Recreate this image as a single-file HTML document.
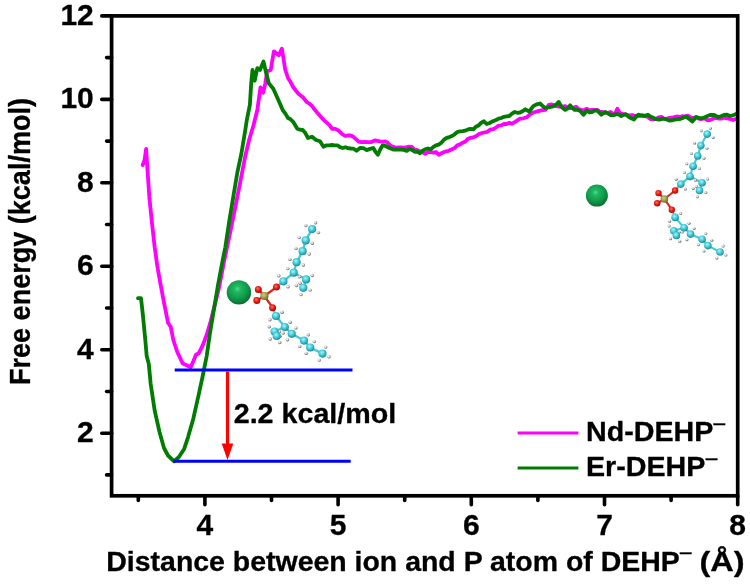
<!DOCTYPE html>
<html lang="en">
<head>
<meta charset="utf-8">
<title>Free energy profile</title>
<style>
html,body{margin:0;padding:0;background:#fff;}
svg{display:block;}
text{font-family:"Liberation Sans",sans-serif;font-weight:bold;font-size:27.3px;fill:#000;stroke:#000;stroke-width:0.3px;stroke-linejoin:round;}
</style>
</head>
<body>
<svg width="750" height="585" viewBox="0 0 750 585">
<defs>
<radialGradient id="gS" cx="0.44" cy="0.36" r="0.72"><stop offset="0" stop-color="#44e08e"/><stop offset="0.18" stop-color="#22b862"/><stop offset="0.55" stop-color="#109a4a"/><stop offset="1" stop-color="#075e2c"/></radialGradient>
<radialGradient id="gC" cx="0.42" cy="0.36" r="0.72"><stop offset="0" stop-color="#aef5f8"/><stop offset="0.45" stop-color="#42ccda"/><stop offset="1" stop-color="#167684"/></radialGradient>
<radialGradient id="gO" cx="0.42" cy="0.38" r="0.72"><stop offset="0" stop-color="#ff7060"/><stop offset="0.5" stop-color="#e6150d"/><stop offset="1" stop-color="#8c0804"/></radialGradient>
<radialGradient id="gP" cx="0.42" cy="0.38" r="0.72"><stop offset="0" stop-color="#d2d082"/><stop offset="0.5" stop-color="#9a9848"/><stop offset="1" stop-color="#5e5c28"/></radialGradient>
<radialGradient id="gH" cx="0.4" cy="0.36" r="0.75"><stop offset="0" stop-color="#ffffff"/><stop offset="0.4" stop-color="#cdcdcd"/><stop offset="1" stop-color="#2e2e2e"/></radialGradient>
</defs>
<rect width="750" height="585" fill="#fff"/>
<g id="molecules">
<line x1="264.4" y1="296.0" x2="258.3" y2="289.4" stroke="#d8261c" stroke-width="2.3"/>
<line x1="264.4" y1="296.0" x2="256.8" y2="300.5" stroke="#d8261c" stroke-width="2.3"/>
<line x1="264.4" y1="296.0" x2="276.5" y2="287.1" stroke="#d8261c" stroke-width="2.3"/>
<line x1="264.4" y1="296.0" x2="272.6" y2="307.7" stroke="#d8261c" stroke-width="2.3"/>
<line x1="276.5" y1="287.1" x2="283.4" y2="281.3" stroke="#49c9d6" stroke-width="2.3"/>
<line x1="283.4" y1="281.3" x2="293.7" y2="272.7" stroke="#49c9d6" stroke-width="2.3"/>
<line x1="293.7" y1="272.7" x2="296.6" y2="262.2" stroke="#49c9d6" stroke-width="2.3"/>
<line x1="296.6" y1="262.2" x2="302.6" y2="251.2" stroke="#49c9d6" stroke-width="2.3"/>
<line x1="302.6" y1="251.2" x2="305.7" y2="240.4" stroke="#49c9d6" stroke-width="2.3"/>
<line x1="305.7" y1="240.4" x2="312.1" y2="229.1" stroke="#49c9d6" stroke-width="2.3"/>
<line x1="293.7" y1="272.7" x2="306.1" y2="279.4" stroke="#49c9d6" stroke-width="2.3"/>
<line x1="306.1" y1="279.4" x2="303.3" y2="287.8" stroke="#49c9d6" stroke-width="2.3"/>
<line x1="272.6" y1="307.7" x2="276.0" y2="316.0" stroke="#49c9d6" stroke-width="2.3"/>
<line x1="276.0" y1="316.0" x2="284.8" y2="327.0" stroke="#49c9d6" stroke-width="2.3"/>
<line x1="284.8" y1="327.0" x2="291.7" y2="333.8" stroke="#49c9d6" stroke-width="2.3"/>
<line x1="291.7" y1="333.8" x2="304.0" y2="340.6" stroke="#49c9d6" stroke-width="2.3"/>
<line x1="304.0" y1="340.6" x2="310.2" y2="347.5" stroke="#49c9d6" stroke-width="2.3"/>
<line x1="310.2" y1="347.5" x2="322.5" y2="353.6" stroke="#49c9d6" stroke-width="2.3"/>
<line x1="284.8" y1="327.0" x2="274.6" y2="331.5" stroke="#49c9d6" stroke-width="2.3"/>
<line x1="274.6" y1="331.5" x2="276.7" y2="336.0" stroke="#49c9d6" stroke-width="2.3"/>
<circle cx="288.0" cy="286.8" r="1.7" fill="url(#gH)"/>
<circle cx="278.8" cy="275.8" r="1.7" fill="url(#gH)"/>
<circle cx="299.6" cy="276.8" r="1.7" fill="url(#gH)"/>
<circle cx="287.8" cy="268.6" r="1.7" fill="url(#gH)"/>
<circle cx="303.3" cy="265.0" r="1.7" fill="url(#gH)"/>
<circle cx="289.9" cy="259.4" r="1.7" fill="url(#gH)"/>
<circle cx="309.2" cy="254.0" r="1.7" fill="url(#gH)"/>
<circle cx="296.0" cy="248.4" r="1.7" fill="url(#gH)"/>
<circle cx="312.3" cy="243.2" r="1.7" fill="url(#gH)"/>
<circle cx="299.1" cy="237.6" r="1.7" fill="url(#gH)"/>
<circle cx="318.4" cy="232.6" r="1.7" fill="url(#gH)"/>
<circle cx="305.8" cy="225.6" r="1.7" fill="url(#gH)"/>
<circle cx="315.6" cy="222.8" r="1.7" fill="url(#gH)"/>
<circle cx="300.0" cy="283.3" r="1.7" fill="url(#gH)"/>
<circle cx="312.2" cy="275.5" r="1.7" fill="url(#gH)"/>
<circle cx="296.5" cy="285.5" r="1.7" fill="url(#gH)"/>
<circle cx="310.1" cy="290.1" r="1.7" fill="url(#gH)"/>
<circle cx="301.0" cy="294.6" r="1.7" fill="url(#gH)"/>
<circle cx="269.9" cy="319.8" r="1.7" fill="url(#gH)"/>
<circle cx="282.1" cy="312.2" r="1.7" fill="url(#gH)"/>
<circle cx="279.4" cy="331.8" r="1.7" fill="url(#gH)"/>
<circle cx="290.2" cy="322.2" r="1.7" fill="url(#gH)"/>
<circle cx="287.5" cy="339.7" r="1.7" fill="url(#gH)"/>
<circle cx="295.9" cy="327.9" r="1.7" fill="url(#gH)"/>
<circle cx="299.7" cy="346.4" r="1.7" fill="url(#gH)"/>
<circle cx="308.3" cy="334.8" r="1.7" fill="url(#gH)"/>
<circle cx="306.1" cy="353.4" r="1.7" fill="url(#gH)"/>
<circle cx="314.3" cy="341.6" r="1.7" fill="url(#gH)"/>
<circle cx="319.3" cy="360.1" r="1.7" fill="url(#gH)"/>
<circle cx="325.7" cy="347.1" r="1.7" fill="url(#gH)"/>
<circle cx="329.0" cy="356.8" r="1.7" fill="url(#gH)"/>
<circle cx="269.2" cy="326.7" r="1.7" fill="url(#gH)"/>
<circle cx="280.0" cy="336.3" r="1.7" fill="url(#gH)"/>
<circle cx="270.2" cy="339.0" r="1.7" fill="url(#gH)"/>
<circle cx="283.2" cy="333.0" r="1.7" fill="url(#gH)"/>
<circle cx="279.7" cy="342.5" r="1.7" fill="url(#gH)"/>
<circle cx="283.4" cy="281.3" r="4.1" fill="url(#gC)"/>
<circle cx="293.7" cy="272.7" r="4.1" fill="url(#gC)"/>
<circle cx="296.6" cy="262.2" r="4.1" fill="url(#gC)"/>
<circle cx="302.6" cy="251.2" r="4.1" fill="url(#gC)"/>
<circle cx="305.7" cy="240.4" r="4.1" fill="url(#gC)"/>
<circle cx="312.1" cy="229.1" r="4.1" fill="url(#gC)"/>
<circle cx="306.1" cy="279.4" r="4.1" fill="url(#gC)"/>
<circle cx="303.3" cy="287.8" r="4.1" fill="url(#gC)"/>
<circle cx="276.0" cy="316.0" r="4.1" fill="url(#gC)"/>
<circle cx="284.8" cy="327.0" r="4.1" fill="url(#gC)"/>
<circle cx="291.7" cy="333.8" r="4.1" fill="url(#gC)"/>
<circle cx="304.0" cy="340.6" r="4.1" fill="url(#gC)"/>
<circle cx="310.2" cy="347.5" r="4.1" fill="url(#gC)"/>
<circle cx="322.5" cy="353.6" r="4.1" fill="url(#gC)"/>
<circle cx="274.6" cy="331.5" r="4.1" fill="url(#gC)"/>
<circle cx="276.7" cy="336.0" r="4.1" fill="url(#gC)"/>
<circle cx="258.3" cy="289.4" r="3.5" fill="url(#gO)"/>
<circle cx="256.8" cy="300.5" r="3.5" fill="url(#gO)"/>
<circle cx="276.5" cy="287.1" r="3.5" fill="url(#gO)"/>
<circle cx="272.6" cy="307.7" r="3.5" fill="url(#gO)"/>
<circle cx="264.4" cy="296.0" r="4.1" fill="url(#gP)"/>
<circle cx="238.9" cy="292.4" r="12.2" fill="url(#gS)"/>
<line x1="664.4" y1="199.0" x2="658.5" y2="193.1" stroke="#d8261c" stroke-width="2.1"/>
<line x1="664.4" y1="199.0" x2="657.2" y2="203.3" stroke="#d8261c" stroke-width="2.1"/>
<line x1="664.4" y1="199.0" x2="675.1" y2="190.5" stroke="#d8261c" stroke-width="2.1"/>
<line x1="664.4" y1="199.0" x2="671.8" y2="209.7" stroke="#d8261c" stroke-width="2.1"/>
<line x1="675.1" y1="190.5" x2="680.8" y2="184.1" stroke="#49c9d6" stroke-width="2.1"/>
<line x1="680.8" y1="184.1" x2="690.0" y2="176.4" stroke="#49c9d6" stroke-width="2.1"/>
<line x1="690.0" y1="176.4" x2="693.1" y2="166.2" stroke="#49c9d6" stroke-width="2.1"/>
<line x1="693.1" y1="166.2" x2="697.7" y2="155.9" stroke="#49c9d6" stroke-width="2.1"/>
<line x1="697.7" y1="155.9" x2="700.8" y2="145.6" stroke="#49c9d6" stroke-width="2.1"/>
<line x1="700.8" y1="145.6" x2="707.2" y2="134.1" stroke="#49c9d6" stroke-width="2.1"/>
<line x1="690.0" y1="176.4" x2="702.1" y2="182.8" stroke="#49c9d6" stroke-width="2.1"/>
<line x1="702.1" y1="182.8" x2="699.5" y2="190.5" stroke="#49c9d6" stroke-width="2.1"/>
<line x1="671.8" y1="209.7" x2="675.1" y2="217.4" stroke="#49c9d6" stroke-width="2.1"/>
<line x1="675.1" y1="217.4" x2="684.1" y2="227.7" stroke="#49c9d6" stroke-width="2.1"/>
<line x1="684.1" y1="227.7" x2="690.5" y2="234.1" stroke="#49c9d6" stroke-width="2.1"/>
<line x1="690.5" y1="234.1" x2="702.1" y2="239.2" stroke="#49c9d6" stroke-width="2.1"/>
<line x1="702.1" y1="239.2" x2="707.9" y2="245.6" stroke="#49c9d6" stroke-width="2.1"/>
<line x1="707.9" y1="245.6" x2="720.0" y2="252.0" stroke="#49c9d6" stroke-width="2.1"/>
<line x1="684.1" y1="227.7" x2="673.8" y2="230.8" stroke="#49c9d6" stroke-width="2.1"/>
<line x1="673.8" y1="230.8" x2="676.4" y2="235.4" stroke="#49c9d6" stroke-width="2.1"/>
<circle cx="685.4" cy="189.0" r="1.5" fill="url(#gH)"/>
<circle cx="676.2" cy="179.2" r="1.5" fill="url(#gH)"/>
<circle cx="695.5" cy="180.2" r="1.5" fill="url(#gH)"/>
<circle cx="684.5" cy="172.6" r="1.5" fill="url(#gH)"/>
<circle cx="699.4" cy="168.6" r="1.5" fill="url(#gH)"/>
<circle cx="686.8" cy="163.8" r="1.5" fill="url(#gH)"/>
<circle cx="704.0" cy="158.2" r="1.5" fill="url(#gH)"/>
<circle cx="691.4" cy="153.6" r="1.5" fill="url(#gH)"/>
<circle cx="706.9" cy="148.3" r="1.5" fill="url(#gH)"/>
<circle cx="694.7" cy="142.9" r="1.5" fill="url(#gH)"/>
<circle cx="713.1" cy="137.4" r="1.5" fill="url(#gH)"/>
<circle cx="701.3" cy="130.8" r="1.5" fill="url(#gH)"/>
<circle cx="710.5" cy="128.2" r="1.5" fill="url(#gH)"/>
<circle cx="696.5" cy="186.5" r="1.5" fill="url(#gH)"/>
<circle cx="707.7" cy="179.1" r="1.5" fill="url(#gH)"/>
<circle cx="693.2" cy="188.4" r="1.5" fill="url(#gH)"/>
<circle cx="705.8" cy="192.6" r="1.5" fill="url(#gH)"/>
<circle cx="697.4" cy="196.8" r="1.5" fill="url(#gH)"/>
<circle cx="669.6" cy="221.2" r="1.5" fill="url(#gH)"/>
<circle cx="680.6" cy="213.6" r="1.5" fill="url(#gH)"/>
<circle cx="679.2" cy="232.2" r="1.5" fill="url(#gH)"/>
<circle cx="689.0" cy="223.2" r="1.5" fill="url(#gH)"/>
<circle cx="686.9" cy="239.7" r="1.5" fill="url(#gH)"/>
<circle cx="694.1" cy="228.5" r="1.5" fill="url(#gH)"/>
<circle cx="698.4" cy="244.8" r="1.5" fill="url(#gH)"/>
<circle cx="705.8" cy="233.6" r="1.5" fill="url(#gH)"/>
<circle cx="704.0" cy="251.0" r="1.5" fill="url(#gH)"/>
<circle cx="711.8" cy="240.2" r="1.5" fill="url(#gH)"/>
<circle cx="716.9" cy="257.9" r="1.5" fill="url(#gH)"/>
<circle cx="723.1" cy="246.1" r="1.5" fill="url(#gH)"/>
<circle cx="725.9" cy="255.1" r="1.5" fill="url(#gH)"/>
<circle cx="669.1" cy="226.1" r="1.5" fill="url(#gH)"/>
<circle cx="678.5" cy="235.5" r="1.5" fill="url(#gH)"/>
<circle cx="670.6" cy="238.7" r="1.5" fill="url(#gH)"/>
<circle cx="682.2" cy="232.1" r="1.5" fill="url(#gH)"/>
<circle cx="679.7" cy="241.2" r="1.5" fill="url(#gH)"/>
<circle cx="680.8" cy="184.1" r="3.8" fill="url(#gC)"/>
<circle cx="690.0" cy="176.4" r="3.8" fill="url(#gC)"/>
<circle cx="693.1" cy="166.2" r="3.8" fill="url(#gC)"/>
<circle cx="697.7" cy="155.9" r="3.8" fill="url(#gC)"/>
<circle cx="700.8" cy="145.6" r="3.8" fill="url(#gC)"/>
<circle cx="707.2" cy="134.1" r="3.8" fill="url(#gC)"/>
<circle cx="702.1" cy="182.8" r="3.8" fill="url(#gC)"/>
<circle cx="699.5" cy="190.5" r="3.8" fill="url(#gC)"/>
<circle cx="675.1" cy="217.4" r="3.8" fill="url(#gC)"/>
<circle cx="684.1" cy="227.7" r="3.8" fill="url(#gC)"/>
<circle cx="690.5" cy="234.1" r="3.8" fill="url(#gC)"/>
<circle cx="702.1" cy="239.2" r="3.8" fill="url(#gC)"/>
<circle cx="707.9" cy="245.6" r="3.8" fill="url(#gC)"/>
<circle cx="720.0" cy="252.0" r="3.8" fill="url(#gC)"/>
<circle cx="673.8" cy="230.8" r="3.8" fill="url(#gC)"/>
<circle cx="676.4" cy="235.4" r="3.8" fill="url(#gC)"/>
<circle cx="658.5" cy="193.1" r="3.2" fill="url(#gO)"/>
<circle cx="657.2" cy="203.3" r="3.2" fill="url(#gO)"/>
<circle cx="675.1" cy="190.5" r="3.2" fill="url(#gO)"/>
<circle cx="671.8" cy="209.7" r="3.2" fill="url(#gO)"/>
<circle cx="664.4" cy="199.0" r="3.8" fill="url(#gP)"/>
<circle cx="596.9" cy="195.6" r="11" fill="url(#gS)"/>
</g>
<g id="curves" fill="none" stroke-linejoin="round" stroke-linecap="round">
<polyline points="142.7,165.0 144.6,160.0 146.1,149.0 147.5,170.0 149.3,196.7 152.0,223.3 154.7,247.3 157.3,266.0 160.0,281.3 164.0,302.7 168.0,322.7 170.7,326.7 173.3,340.0 177.3,352.0 182.7,363.5 186.7,365.3 190.7,367.2 193.3,361.3 196.0,354.7 198.7,353.3 202.7,345.3 206.7,334.7 210.7,321.3 214.7,305.3 219.0,288.0 224.0,262.0 229.3,236.7 234.7,210.0 240.0,183.3 245.3,156.0 249.3,139.3 253.3,126.0 257.3,110.0 260.5,87.3 263.2,92.7 265.3,83.3 267.2,71.3 270.7,70.0 273.9,51.3 278.7,55.3 281.9,48.7 285.3,70.0 288.0,78.0 290.6,82.1 293.3,87.3 296.0,90.7 298.7,94.0 302.7,97.0 306.7,102.0 309.4,103.7 312.0,106.0 314.6,109.6 317.3,112.7 321.3,117.3 324.0,120.3 326.7,122.7 329.4,124.9 332.0,128.8 335.4,128.8 338.7,130.7 342.0,134.0 345.3,136.0 348.0,135.3 350.7,135.5 353.4,136.8 356.0,139.2 358.6,141.6 361.3,142.1 364.6,142.0 368.0,142.1 371.4,142.0 374.7,140.5 377.4,140.9 380.0,141.3 382.6,141.6 385.3,141.3 388.0,142.9 390.7,145.9 393.4,146.7 396.0,147.7 398.7,147.5 401.4,147.3 404.0,147.6 406.6,147.2 409.3,146.7 412.0,147.0 414.6,149.5 417.3,150.1 420.0,151.5 422.6,152.2 425.3,153.9 428.0,152.0 430.7,152.0 433.4,152.7 436.0,152.0 438.7,154.7 442.0,153.0 445.3,151.5 448.6,150.8 452.0,149.3 454.6,148.1 457.3,145.3 460.0,144.4 462.7,142.7 465.4,141.5 468.0,138.7 470.6,137.8 473.3,137.3 476.0,136.3 478.7,134.1 481.4,133.2 484.0,132.5 487.4,131.8 490.7,129.3 493.4,129.2 496.0,127.5 498.6,125.6 501.3,125.3 504.0,123.9 506.7,124.0 509.4,122.8 512.0,123.7 514.7,122.1 517.4,120.3 520.0,118.7 523.4,118.3 526.7,117.3 530.0,114.5 533.3,112.5 536.6,111.6 540.0,110.7 542.6,110.1 545.3,109.9 548.8,104.8 551.0,104.5 553.3,104.8 556.0,105.9 558.7,106.7 562.0,106.6 565.3,106.1 568.0,107.9 570.7,108.0 573.4,107.7 576.0,106.7 578.6,109.2 581.3,109.9 584.0,110.1 586.7,108.8 589.4,110.1 592.0,109.9 594.7,109.9 597.4,109.9 600.0,112.0 602.7,112.0 605.4,112.9 608.0,112.8 610.7,112.0 614.7,114.7 617.3,108.8 620.0,113.3 623.4,114.1 626.7,114.7 629.4,115.6 632.0,115.0 634.7,116.0 637.4,116.4 640.0,115.6 642.7,115.2 645.4,116.1 648.0,117.0 650.7,119.2 653.4,119.3 656.0,118.9 658.7,117.3 661.4,116.9 664.0,118.8 666.7,118.7 670.0,117.8 673.3,117.3 676.6,116.5 680.0,117.0 682.7,116.1 685.3,116.6 688.0,115.6 691.0,117.5 694.0,118.0 696.7,117.4 699.3,118.9 702.0,119.0 704.7,118.4 707.3,120.1 710.0,120.0 713.0,118.7 716.0,118.0 718.7,118.6 721.3,118.7 724.0,117.6 727.0,118.3 730.0,119.0 733.0,120.0 736.0,119.0" stroke="#ff00ff" stroke-width="3.8"/>
<polyline points="138.0,298.2 141.0,298.2 142.7,313.3 145.3,340.0 146.7,356.0 148.8,364.0 150.7,384.0 154.7,410.7 159.5,432.0 164.0,448.0 168.0,455.5 174.1,461.3 178.7,457.3 184.0,449.3 188.0,437.3 193.3,418.7 198.7,394.7 202.7,376.0 206.7,356.0 210.0,333.0 214.0,309.0 218.0,285.0 222.7,260.0 225.3,247.3 229.3,220.7 233.3,196.7 237.3,172.7 241.3,154.0 245.3,130.0 246.7,120.7 249.9,104.7 251.2,83.3 252.5,70.0 254.7,80.7 257.3,68.1 260.0,70.0 263.5,61.5 266.1,72.7 268.8,83.3 273.3,88.7 278.7,100.7 282.7,110.0 285.4,113.6 288.0,118.0 290.6,119.3 293.3,122.0 297.3,128.7 300.0,129.7 302.7,130.0 305.4,133.1 308.0,138.0 312.0,136.7 316.0,140.0 320.0,141.3 323.5,146.7 326.7,145.3 329.4,145.4 332.0,145.0 334.7,145.3 337.4,145.3 340.0,147.1 342.7,148.0 345.4,147.2 348.0,148.2 350.7,148.5 353.6,148.7 356.5,150.7 360.0,148.0 363.4,148.2 366.7,150.1 370.0,148.9 373.3,148.0 375.6,152.0 377.9,154.7 380.3,149.2 382.7,145.3 385.4,145.8 388.0,147.5 390.7,148.4 393.3,149.6 396.0,149.3 398.7,149.7 401.3,149.5 404.0,149.9 406.7,150.9 409.3,149.0 412.0,149.9 414.7,151.8 417.3,151.7 420.0,153.3 422.6,150.6 425.3,149.3 428.0,148.5 430.7,149.3 433.4,146.9 436.0,145.3 438.6,144.6 441.3,142.7 444.0,139.7 446.7,137.9 449.4,137.1 452.0,136.0 454.6,134.3 457.3,132.0 460.0,131.3 462.6,131.2 465.3,130.7 468.0,129.4 470.6,128.9 473.3,129.3 476.0,126.7 478.7,125.3 481.3,122.7 484.0,121.3 486.7,124.0 489.8,123.0 492.9,121.2 496.0,120.0 498.7,118.6 501.3,118.0 504.0,116.8 506.6,116.3 509.3,116.0 512.0,113.6 514.7,112.0 517.4,112.8 520.0,112.5 522.6,111.3 525.3,109.3 529.3,111.5 533.3,106.1 536.6,104.3 540.0,103.5 542.6,105.9 545.3,108.0 548.6,107.4 552.0,106.7 555.5,105.3 558.7,101.9 561.3,106.7 565.3,109.9 567.7,108.4 570.1,105.3 572.4,108.1 574.7,109.9 577.4,109.9 580.0,110.7 583.5,114.7 586.7,110.7 589.4,112.3 592.0,112.0 594.6,110.6 597.3,110.7 601.3,114.7 605.3,112.0 608.0,113.4 610.7,115.2 613.4,115.2 616.0,114.1 618.6,114.4 621.3,116.0 625.3,114.1 629.3,117.3 631.7,118.4 634.1,119.5 636.4,116.2 638.7,114.7 641.4,115.7 644.0,116.0 648.0,114.7 650.7,116.7 653.3,117.8 656.0,119.2 659.4,119.7 662.7,118.7 666.0,119.2 669.3,120.5 672.0,120.4 674.7,119.5 677.4,119.4 680.0,119.0 683.0,117.9 686.0,116.4 689.2,118.9 692.4,121.6 696.0,117.0 698.7,117.9 701.3,118.3 704.0,117.6 707.0,116.2 710.0,115.0 714.0,115.0 718.0,117.0 721.0,116.3 724.0,115.0 727.0,114.6 730.0,116.0 733.0,115.4 736.0,114.0" stroke="#007d00" stroke-width="3.8"/>
</g>
<g id="annot">
<line x1="174.7" y1="370" x2="352.5" y2="370" stroke="#0000ff" stroke-width="3"/>
<line x1="173.3" y1="461.3" x2="350.7" y2="461.3" stroke="#0000ff" stroke-width="3"/>
<line x1="227.5" y1="371.5" x2="227.5" y2="446" stroke="#ff0000" stroke-width="3.2"/>
<polygon points="221.7,443.5 233.3,443.5 227.5,460" fill="#ff0000"/>
<line x1="517.6" y1="433" x2="578.4" y2="433" stroke="#ff00ff" stroke-width="3.2"/>
<line x1="517.6" y1="468" x2="578.4" y2="468" stroke="#007d00" stroke-width="3.2"/>
</g>
<g id="axes">
<rect x="111.6" y="15.9" width="626.1" height="479.9" fill="none" stroke="#000" stroke-width="3.7"/>
<line x1="101.8" y1="433.2" x2="111.6" y2="433.2" stroke="#000" stroke-width="3.6" stroke-linecap="round"/>
<line x1="101.8" y1="349.7" x2="111.6" y2="349.7" stroke="#000" stroke-width="3.6" stroke-linecap="round"/>
<line x1="101.8" y1="266.3" x2="111.6" y2="266.3" stroke="#000" stroke-width="3.6" stroke-linecap="round"/>
<line x1="101.8" y1="182.8" x2="111.6" y2="182.8" stroke="#000" stroke-width="3.6" stroke-linecap="round"/>
<line x1="101.8" y1="99.4" x2="111.6" y2="99.4" stroke="#000" stroke-width="3.6" stroke-linecap="round"/>
<line x1="101.8" y1="15.9" x2="111.6" y2="15.9" stroke="#000" stroke-width="3.6" stroke-linecap="round"/>
<line x1="106.6" y1="474.9" x2="111.6" y2="474.9" stroke="#000" stroke-width="3.6" stroke-linecap="round"/>
<line x1="106.6" y1="391.5" x2="111.6" y2="391.5" stroke="#000" stroke-width="3.6" stroke-linecap="round"/>
<line x1="106.6" y1="308.0" x2="111.6" y2="308.0" stroke="#000" stroke-width="3.6" stroke-linecap="round"/>
<line x1="106.6" y1="224.5" x2="111.6" y2="224.5" stroke="#000" stroke-width="3.6" stroke-linecap="round"/>
<line x1="106.6" y1="141.1" x2="111.6" y2="141.1" stroke="#000" stroke-width="3.6" stroke-linecap="round"/>
<line x1="106.6" y1="57.6" x2="111.6" y2="57.6" stroke="#000" stroke-width="3.6" stroke-linecap="round"/>
<line x1="204.9" y1="495.8" x2="204.9" y2="504.7" stroke="#000" stroke-width="3.6" stroke-linecap="round"/>
<line x1="338.1" y1="495.8" x2="338.1" y2="504.7" stroke="#000" stroke-width="3.6" stroke-linecap="round"/>
<line x1="471.3" y1="495.8" x2="471.3" y2="504.7" stroke="#000" stroke-width="3.6" stroke-linecap="round"/>
<line x1="604.5" y1="495.8" x2="604.5" y2="504.7" stroke="#000" stroke-width="3.6" stroke-linecap="round"/>
<line x1="737.7" y1="495.8" x2="737.7" y2="504.7" stroke="#000" stroke-width="3.6" stroke-linecap="round"/>
<line x1="138.3" y1="495.8" x2="138.3" y2="500.4" stroke="#000" stroke-width="3.6" stroke-linecap="round"/>
<line x1="271.5" y1="495.8" x2="271.5" y2="500.4" stroke="#000" stroke-width="3.6" stroke-linecap="round"/>
<line x1="404.7" y1="495.8" x2="404.7" y2="500.4" stroke="#000" stroke-width="3.6" stroke-linecap="round"/>
<line x1="537.9" y1="495.8" x2="537.9" y2="500.4" stroke="#000" stroke-width="3.6" stroke-linecap="round"/>
<line x1="671.1" y1="495.8" x2="671.1" y2="500.4" stroke="#000" stroke-width="3.6" stroke-linecap="round"/>
</g>
<g id="labels">
<text transform="translate(93.8,442.2) scale(1.0,1)" text-anchor="end" style="font-size:30px">2</text>
<text transform="translate(93.8,358.7) scale(1.0,1)" text-anchor="end" style="font-size:30px">4</text>
<text transform="translate(93.8,275.3) scale(1.0,1)" text-anchor="end" style="font-size:30px">6</text>
<text transform="translate(93.8,191.8) scale(1.0,1)" text-anchor="end" style="font-size:30px">8</text>
<text transform="translate(93.8,108.4) scale(1.0,1)" text-anchor="end" style="font-size:30px">10</text>
<text transform="translate(93.8,24.9) scale(1.0,1)" text-anchor="end" style="font-size:30px">12</text>
<text transform="translate(204.9,534.8) scale(1.0,1)" text-anchor="middle" style="font-size:30px">4</text>
<text transform="translate(338.1,534.8) scale(1.0,1)" text-anchor="middle" style="font-size:30px">5</text>
<text transform="translate(471.3,534.8) scale(1.0,1)" text-anchor="middle" style="font-size:30px">6</text>
<text transform="translate(604.5,534.8) scale(1.0,1)" text-anchor="middle" style="font-size:30px">7</text>
<text transform="translate(737.7,534.8) scale(1.0,1)" text-anchor="middle" style="font-size:30px">8</text>
<text transform="translate(106.3,570.8) scale(1.043,1)" text-anchor="start">Distance between ion and P atom of DEHP<tspan dx="-1" dy="-9.6" font-size="23" font-weight="normal">−</tspan></text>
<text transform="translate(699.5,570.8) scale(1.19,1)" text-anchor="start">(Å)</text>
<text transform="translate(30.1,385.0) scale(1.06,1) rotate(-90)" style="font-size:27.05px">Free energy (kcal/mol)</text>
<text transform="translate(233.7,422.9) scale(1.05,1)" text-anchor="start">2.2 kcal/mol</text>
<text transform="translate(586.0,441.4) scale(1.05,1)" text-anchor="start">Nd-DEHP<tspan dx="-1" dy="-9.6" font-size="23" font-weight="normal">−</tspan></text>
<text transform="translate(586.0,476.4) scale(1.05,1)" text-anchor="start">Er-DEHP<tspan dx="-1" dy="-9.6" font-size="23" font-weight="normal">−</tspan></text>
</g>
</svg>
</body>
</html>
